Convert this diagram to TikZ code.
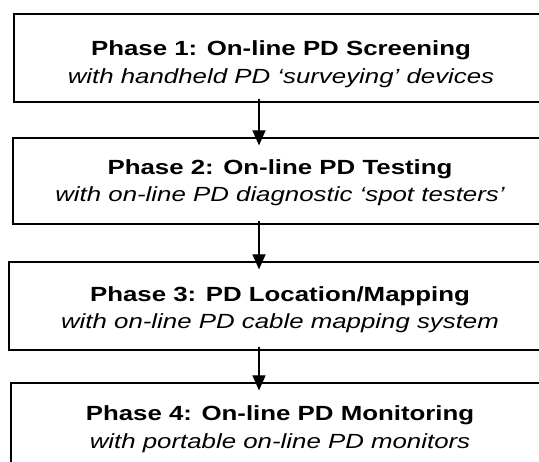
\documentclass[tikz,border=0pt]{standalone}
\usepackage{fontspec}
\setmainfont{Liberation Sans}[FakeStretch=1.26]
\usetikzlibrary{arrows.meta}
\begin{document}
\begin{tikzpicture}[x=1pt,y=-1pt,
  box/.style={draw, line width=1.2pt, rectangle, inner sep=0pt},
  ttl/.style={font=\fontsize{20.5}{24}\selectfont\bfseries, anchor=base, inner sep=0pt},
  sub/.style={font=\fontsize{20.5}{24}\selectfont\itshape, anchor=base, inner sep=0pt},
  arr/.style={-{Triangle[length=15pt,width=13pt]}, line width=1.2pt, shorten >=-8pt, shorten <=-4pt}]
\useasboundingbox (0,0) rectangle (539,462);
\clip (0,0) rectangle (539,462);
\coordinate (ax) at (259,0);
\node[box, minimum width=534pt, minimum height=88pt] (box1) at (281,58) {};
\node[box, minimum width=536pt, minimum height=86pt] (box2) at (281,181) {};
\node[box, minimum width=544pt, minimum height=88pt] (box3) at (281,306) {};
\node[box, minimum width=540pt, minimum height=88pt] (box4) at (281,427) {};
\node[ttl] (t1) at (281,56) {Phase 1: On-line PD Screening};
\node[sub] (s1) at (281,84) {with handheld PD ‘surveying’ devices};
\node[ttl] (t2) at (280,175) {Phase 2: On-line PD Testing};
\node[sub] (s2) at (280,202) {with on-line PD diagnostic ‘spot testers’};
\node[ttl] (t3) at (280,302) {Phase 3: PD Location/Mapping};
\node[sub] (s3) at (280,329) {with on-line PD cable mapping system};
\node[ttl] (t4) at (280,421) {Phase 4: On-line PD Monitoring};
\node[sub] (s4) at (280,449) {with portable on-line PD monitors};
\draw[arr] (box1.south -| ax) -- (box2.north -| ax);
\draw[arr] (box2.south -| ax) -- (box3.north -| ax);
\draw[arr] (box3.south -| ax) -- (box4.north -| ax);
\end{tikzpicture}
\end{document}
